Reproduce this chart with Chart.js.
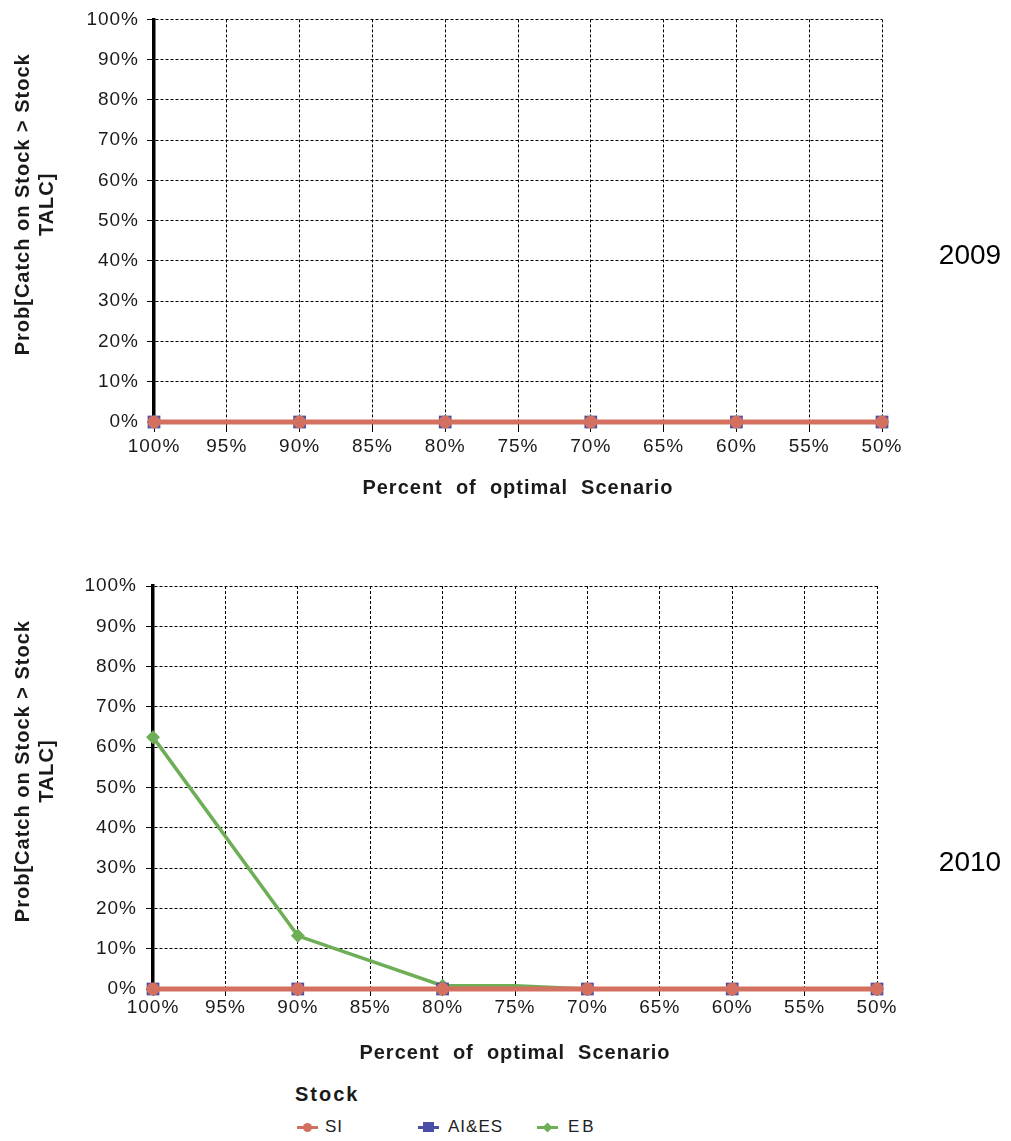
<!DOCTYPE html>
<html><head><meta charset="utf-8">
<script src="https://cdn.jsdelivr.net/npm/chart.js@4.4.1/dist/chart.umd.min.js"></script>
<style>
body{margin:0;background:#fff;width:1011px;height:1141px;position:relative;overflow:hidden;font-family:"Liberation Sans",Arial,sans-serif;color:#222;}
.cw{position:absolute;left:0}
.yr{position:absolute;font-size:28px;color:#000;width:100px;text-align:center;left:920px;line-height:32px}
.abs{position:absolute}
.lt{position:absolute;font-size:17px;letter-spacing:1px;line-height:20px;top:1117px;color:#222;white-space:nowrap}
</style></head><body>
<div class="cw" style="top:0"><canvas id="c1" width="930" height="520"></canvas></div>
<div class="cw" style="top:560px"><canvas id="c2" width="930" height="520"></canvas></div>
<div class="yr" style="top:239px">2009</div>
<div class="yr" style="top:846px">2010</div>
<div id="legend"></div>
<script>
// ---- data ----
const scenarios = [100, 90, 80, 70, 60, 50];
const xTickValues = [100, 95, 90, 85, 80, 75, 70, 65, 60, 55, 50];
const yTickValues = [0, 10, 20, 30, 40, 50, 60, 70, 80, 90, 100];
const stockNames = ['SI', 'AI&ES', 'EB'];
const si2009 = [0, 0, 0, 0, 0, 0];
const aies2009 = [0, 0, 0, 0, 0, 0];
const eb2009 = [0, 0, 0, 0, 0, 0];
const si2010 = [0, 0, 0, 0, 0, 0];
const aies2010 = [0, 0, 0, 0, 0, 0];
const eb2010Scenarios = [100, 90, 80, 75, 70, 60, 50];
const eb2010 = [62.5, 13.2, 0.8, 0.8, 0, 0, 0];
const yTitle = ['     Prob[Catch on Stock > Stock', '     TALC]'];
const xTitle = 'Percent  of  optimal  Scenario';

// ---- styles ----
const FONT = '"Liberation Sans", Arial, sans-serif';
const colors = ['#D4705F', '#4B4EA6', '#6DAE57'];

const spacing = {id: 'ls', beforeDraw(c) { c.ctx.letterSpacing = '1px'; }};

function pts(xs, ys) { return xs.map((x, i) => ({x: x, y: ys[i]})); }

function makeChart(id, geo, series) {
  const ds = [
    {label: stockNames[0], data: pts(scenarios, series[0]), borderColor: colors[0], backgroundColor: colors[0],
     borderWidth: 5, pointStyle: 'circle', pointRadius: 6.5, pointBorderWidth: 0, order: 0, clip: false},
    {label: stockNames[1], data: pts(scenarios, series[1]), borderColor: colors[1], backgroundColor: colors[1],
     borderWidth: 4, pointStyle: 'rect', pointRadius: 9, pointBorderWidth: 0, order: 1, clip: false},
    {label: stockNames[2], data: pts(series[3], series[2]), borderColor: colors[2], backgroundColor: colors[2],
     borderWidth: 3.5, pointStyle: 'rectRot', pointBorderWidth: 0, order: 2, clip: false,
     pointRadius: c => (c.raw && scenarios.includes(c.raw.x)) ? 7 : 0}
  ];
  return new Chart(document.getElementById(id), {
    type: 'line',
    data: {datasets: ds},
    plugins: [spacing],
    options: {
      responsive: false, animation: false, events: [],
      layout: {padding: {top: geo.top, right: geo.right, bottom: 0, left: 0}},
      plugins: {legend: {display: false}, tooltip: {enabled: false}},
      elements: {line: {tension: 0}},
      scales: {
        x: {
          type: 'linear', reverse: true, min: 50, max: 100,
          afterBuildTicks: s => { s.ticks = xTickValues.map(v => ({value: v})); },
          afterFit: s => { s.height = geo.xh; },
          ticks: {callback: v => v + '%', font: {family: FONT, size: 19}, color: '#1a1a1a', padding: geo.xpad, maxRotation: 0, autoSkip: false},
          grid: {color: '#000', lineWidth: 1, tickLength: geo.xtl, tickColor: '#000', tickWidth: 1, tickBorderDash: [], borderDash: [3, 2]},
          border: {display: false, dash: [3, 2]},
          title: {display: true, text: xTitle, color: '#1a1a1a', font: {family: FONT, size: 20, weight: 'bold'}, padding: {top: 0, bottom: geo.xtb}}
        },
        y: {
          min: 0, max: 100,
          afterBuildTicks: s => { s.ticks = yTickValues.map(v => ({value: v})); },
          afterFit: s => { s.width = geo.left; },
          ticks: {callback: v => v + '%', font: {family: FONT, size: 19}, color: '#1a1a1a', padding: geo.ypad, autoSkip: false},
          grid: {color: '#000', lineWidth: 1, tickLength: 7, tickColor: '#000', tickWidth: 1, tickBorderDash: [], borderDash: [3, 2]},
          border: {display: true, color: '#000', width: 3.5, dash: [3, 2]},
          title: {display: true, text: yTitle, color: '#1a1a1a', font: {family: FONT, size: 20, weight: 'bold'}, padding: {top: 11, bottom: 0}}
        }
      }
    }
  });
}

makeChart('c1', {top: 16, right: 48, left: 154, xh: 98, xpad: 3, xtl: 10, xtb: 20, ypad: 8},
  [si2009, aies2009, eb2009, scenarios]);
makeChart('c2', {top: 26, right: 53, left: 153, xh: 91, xpad: 0, xtl: 7, xtb: 15, ypad: 9},
  [si2010, aies2010, eb2010, eb2010Scenarios]);

// ---- legend (HTML) ----
const lg = document.getElementById('legend');
let html = '<div class="abs" style="left:295px;top:1082px;font-weight:bold;font-size:20px;letter-spacing:2px;line-height:24px;color:#1a1a1a">Stock</div>';
const lx = [297, 418, 537];
const tx = [325, 448, 568];
stockNames.forEach((n, i) => {
  html += `<div class="abs" style="left:${lx[i]}px;top:1125.5px;width:21px;height:3px;background:${colors[i]}"></div>`;
  if (i === 0) html += `<div class="abs" style="left:${lx[i]+6}px;top:1123px;width:9px;height:9px;border-radius:50%;background:${colors[i]}"></div>`;
  if (i === 1) html += `<div class="abs" style="left:${lx[i]+5}px;top:1122px;width:11px;height:10px;background:${colors[i]}"></div>`;
  if (i === 2) html += `<div class="abs" style="left:${lx[i]+7}px;top:1123.5px;width:7px;height:7px;transform:rotate(45deg);background:${colors[i]}"></div>`;
  html += `<div class="lt" style="left:${tx[i]}px;${i===2?'letter-spacing:3px;':''}">${n.replace('&','&amp;')}</div>`;
});
lg.innerHTML = html;
</script>
</body></html>
